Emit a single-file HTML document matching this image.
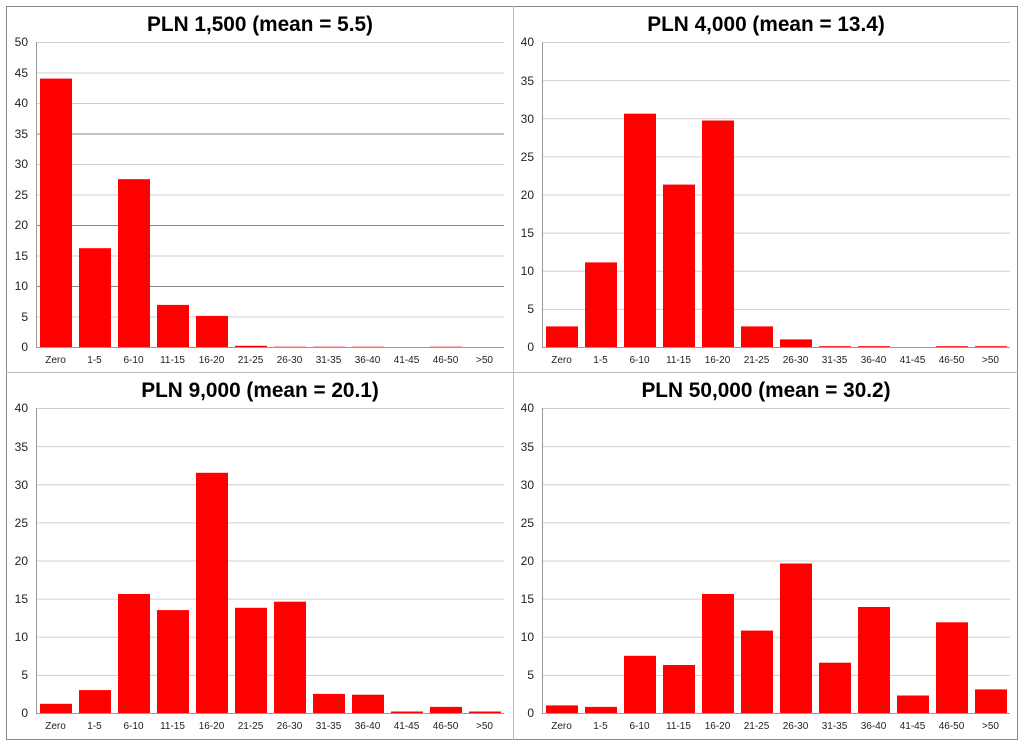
<!DOCTYPE html>
<html><head><meta charset="utf-8"><style>
html,body{margin:0;padding:0;background:#fff;width:1024px;height:746px;overflow:hidden}
svg{display:block;font-family:"Liberation Sans",Arial,sans-serif}
.t{font-size:20.8px;font-weight:bold;fill:#000;text-anchor:middle}
.y{font-size:12px;fill:#222;text-anchor:end}
.x{font-size:10px;fill:#222;text-anchor:middle}
.g{stroke:#cfcfcf;stroke-width:1}
.a{stroke:#999;stroke-width:1}
.b{fill:#ff0000}
</style></head><body>
<svg width="1024" height="746" viewBox="0 0 1024 746">
<rect x="6.5" y="6.5" width="1011" height="733" fill="#fff" stroke="#888"/>
<line x1="513.5" y1="6" x2="513.5" y2="740" stroke="#bbb"/>
<line x1="6" y1="372.5" x2="1018" y2="372.5" stroke="#bbb"/>

<text class="t" x="260" y="31">PLN 1,500 (mean = 5.5)</text>
<text class="t" x="766" y="31">PLN 4,000 (mean = 13.4)</text>
<text class="t" x="260" y="397">PLN 9,000 (mean = 20.1)</text>
<text class="t" x="766" y="397">PLN 50,000 (mean = 30.2)</text>

<!-- TL -->
<g transform="translate(36,42)">
<g class="g">
<line x1="0" y1="0.5" x2="468" y2="0.5"/><line x1="0" y1="31" x2="468" y2="31"/><line x1="0" y1="61.5" x2="468" y2="61.5"/><line x1="0" y1="92" x2="468" y2="92" stroke="#888"/><line x1="0" y1="122.5" x2="468" y2="122.5"/><line x1="0" y1="153" x2="468" y2="153"/><line x1="0" y1="183.5" x2="468" y2="183.5" stroke="#888"/><line x1="0" y1="214" x2="468" y2="214"/><line x1="0" y1="244.5" x2="468" y2="244.5" stroke="#888"/><line x1="0" y1="275" x2="468" y2="275"/>
</g>
<line class="a" x1="0.5" y1="0" x2="0.5" y2="305"/>
<g class="b">
<rect x="4" y="36.6" width="32" height="268.4"/><rect x="43" y="206.2" width="32" height="98.8"/><rect x="82" y="137.2" width="32" height="167.8"/><rect x="121" y="262.9" width="32" height="42.1"/><rect x="160" y="273.9" width="32" height="31.1"/><rect x="199" y="303.8" width="32" height="1.2"/><rect x="238" y="304.4" width="32" height="0.6" opacity=".5"/><rect x="277" y="304.4" width="32" height="0.6" opacity=".5"/><rect x="316" y="304.4" width="32" height="0.6" opacity=".5"/><rect x="394" y="304.4" width="32" height="0.6" opacity=".5"/>
</g>
<line class="a" x1="0" y1="305.5" x2="468" y2="305.5"/>
<text class="y" x="-8" y="4">50</text><text class="y" x="-8" y="35">45</text><text class="y" x="-8" y="65">40</text><text class="y" x="-8" y="96">35</text><text class="y" x="-8" y="126">30</text><text class="y" x="-8" y="157">25</text><text class="y" x="-8" y="187">20</text><text class="y" x="-8" y="218">15</text><text class="y" x="-8" y="248">10</text><text class="y" x="-8" y="279">5</text><text class="y" x="-8" y="309">0</text>
<text class="x" x="19.5" y="321">Zero</text><text class="x" x="58.5" y="321">1-5</text><text class="x" x="97.5" y="321">6-10</text><text class="x" x="136.5" y="321">11-15</text><text class="x" x="175.5" y="321">16-20</text><text class="x" x="214.5" y="321">21-25</text><text class="x" x="253.5" y="321">26-30</text><text class="x" x="292.5" y="321">31-35</text><text class="x" x="331.5" y="321">36-40</text><text class="x" x="370.5" y="321">41-45</text><text class="x" x="409.5" y="321">46-50</text><text class="x" x="448.5" y="321">&gt;50</text>
</g>

<!-- TR -->
<g transform="translate(542,42)">
<g class="g">
<line x1="0" y1="0.5" x2="468" y2="0.5"/><line x1="0" y1="38.6" x2="468" y2="38.6"/><line x1="0" y1="76.8" x2="468" y2="76.8"/><line x1="0" y1="114.9" x2="468" y2="114.9"/><line x1="0" y1="153" x2="468" y2="153"/><line x1="0" y1="191.1" x2="468" y2="191.1"/><line x1="0" y1="229.3" x2="468" y2="229.3"/><line x1="0" y1="267.4" x2="468" y2="267.4"/>
</g>
<line class="a" x1="0.5" y1="0" x2="0.5" y2="305"/>
<g class="b">
<rect x="4" y="284.4" width="32" height="20.6"/><rect x="43" y="220.4" width="32" height="84.6"/><rect x="82" y="71.7" width="32" height="233.3"/><rect x="121" y="142.6" width="32" height="162.4"/><rect x="160" y="78.5" width="32" height="226.5"/><rect x="199" y="284.4" width="32" height="20.6"/><rect x="238" y="297.4" width="32" height="7.6"/><rect x="277" y="304.2" width="32" height="0.8"/><rect x="316" y="304.2" width="32" height="0.8"/><rect x="394" y="304.2" width="32" height="0.8"/><rect x="433" y="304.2" width="32" height="0.8"/>
</g>
<line class="a" x1="0" y1="305.5" x2="468" y2="305.5"/>
<text class="y" x="-8" y="4">40</text><text class="y" x="-8" y="43">35</text><text class="y" x="-8" y="81">30</text><text class="y" x="-8" y="119">25</text><text class="y" x="-8" y="157">20</text><text class="y" x="-8" y="195">15</text><text class="y" x="-8" y="233">10</text><text class="y" x="-8" y="271">5</text><text class="y" x="-8" y="309">0</text>
<text class="x" x="19.5" y="321">Zero</text><text class="x" x="58.5" y="321">1-5</text><text class="x" x="97.5" y="321">6-10</text><text class="x" x="136.5" y="321">11-15</text><text class="x" x="175.5" y="321">16-20</text><text class="x" x="214.5" y="321">21-25</text><text class="x" x="253.5" y="321">26-30</text><text class="x" x="292.5" y="321">31-35</text><text class="x" x="331.5" y="321">36-40</text><text class="x" x="370.5" y="321">41-45</text><text class="x" x="409.5" y="321">46-50</text><text class="x" x="448.5" y="321">&gt;50</text>
</g>

<!-- BL -->
<g transform="translate(36,408)">
<g class="g">
<line x1="0" y1="0.5" x2="468" y2="0.5"/><line x1="0" y1="38.6" x2="468" y2="38.6"/><line x1="0" y1="76.8" x2="468" y2="76.8"/><line x1="0" y1="114.9" x2="468" y2="114.9"/><line x1="0" y1="153" x2="468" y2="153"/><line x1="0" y1="191.1" x2="468" y2="191.1"/><line x1="0" y1="229.3" x2="468" y2="229.3"/><line x1="0" y1="267.4" x2="468" y2="267.4"/>
</g>
<line class="a" x1="0.5" y1="0" x2="0.5" y2="305"/>
<g class="b">
<rect x="4" y="295.8" width="32" height="9.2"/><rect x="43" y="282.1" width="32" height="22.9"/><rect x="82" y="186" width="32" height="119"/><rect x="121" y="202.1" width="32" height="102.9"/><rect x="160" y="64.8" width="32" height="240.2"/><rect x="199" y="199.8" width="32" height="105.2"/><rect x="238" y="193.7" width="32" height="111.3"/><rect x="277" y="285.9" width="32" height="19.1"/><rect x="316" y="286.7" width="32" height="18.3"/><rect x="355" y="303.5" width="32" height="1.5"/><rect x="394" y="298.9" width="32" height="6.1"/><rect x="433" y="303.5" width="32" height="1.5"/>
</g>
<line class="a" x1="0" y1="305.5" x2="468" y2="305.5"/>
<text class="y" x="-8" y="4">40</text><text class="y" x="-8" y="43">35</text><text class="y" x="-8" y="81">30</text><text class="y" x="-8" y="119">25</text><text class="y" x="-8" y="157">20</text><text class="y" x="-8" y="195">15</text><text class="y" x="-8" y="233">10</text><text class="y" x="-8" y="271">5</text><text class="y" x="-8" y="309">0</text>
<text class="x" x="19.5" y="321">Zero</text><text class="x" x="58.5" y="321">1-5</text><text class="x" x="97.5" y="321">6-10</text><text class="x" x="136.5" y="321">11-15</text><text class="x" x="175.5" y="321">16-20</text><text class="x" x="214.5" y="321">21-25</text><text class="x" x="253.5" y="321">26-30</text><text class="x" x="292.5" y="321">31-35</text><text class="x" x="331.5" y="321">36-40</text><text class="x" x="370.5" y="321">41-45</text><text class="x" x="409.5" y="321">46-50</text><text class="x" x="448.5" y="321">&gt;50</text>
</g>

<!-- BR -->
<g transform="translate(542,408)">
<g class="g">
<line x1="0" y1="0.5" x2="468" y2="0.5"/><line x1="0" y1="38.6" x2="468" y2="38.6"/><line x1="0" y1="76.8" x2="468" y2="76.8"/><line x1="0" y1="114.9" x2="468" y2="114.9"/><line x1="0" y1="153" x2="468" y2="153"/><line x1="0" y1="191.1" x2="468" y2="191.1"/><line x1="0" y1="229.3" x2="468" y2="229.3"/><line x1="0" y1="267.4" x2="468" y2="267.4"/>
</g>
<line class="a" x1="0.5" y1="0" x2="0.5" y2="305"/>
<g class="b">
<rect x="4" y="297.4" width="32" height="7.6"/><rect x="43" y="298.9" width="32" height="6.1"/><rect x="82" y="247.8" width="32" height="57.2"/><rect x="121" y="257" width="32" height="48"/><rect x="160" y="186" width="32" height="119"/><rect x="199" y="222.6" width="32" height="82.4"/><rect x="238" y="155.5" width="32" height="149.5"/><rect x="277" y="254.7" width="32" height="50.3"/><rect x="316" y="199" width="32" height="106"/><rect x="355" y="287.5" width="32" height="17.5"/><rect x="394" y="214.3" width="32" height="90.7"/><rect x="433" y="281.4" width="32" height="23.6"/>
</g>
<line class="a" x1="0" y1="305.5" x2="468" y2="305.5"/>
<text class="y" x="-8" y="4">40</text><text class="y" x="-8" y="43">35</text><text class="y" x="-8" y="81">30</text><text class="y" x="-8" y="119">25</text><text class="y" x="-8" y="157">20</text><text class="y" x="-8" y="195">15</text><text class="y" x="-8" y="233">10</text><text class="y" x="-8" y="271">5</text><text class="y" x="-8" y="309">0</text>
<text class="x" x="19.5" y="321">Zero</text><text class="x" x="58.5" y="321">1-5</text><text class="x" x="97.5" y="321">6-10</text><text class="x" x="136.5" y="321">11-15</text><text class="x" x="175.5" y="321">16-20</text><text class="x" x="214.5" y="321">21-25</text><text class="x" x="253.5" y="321">26-30</text><text class="x" x="292.5" y="321">31-35</text><text class="x" x="331.5" y="321">36-40</text><text class="x" x="370.5" y="321">41-45</text><text class="x" x="409.5" y="321">46-50</text><text class="x" x="448.5" y="321">&gt;50</text>
</g>
</svg>
</body></html>
